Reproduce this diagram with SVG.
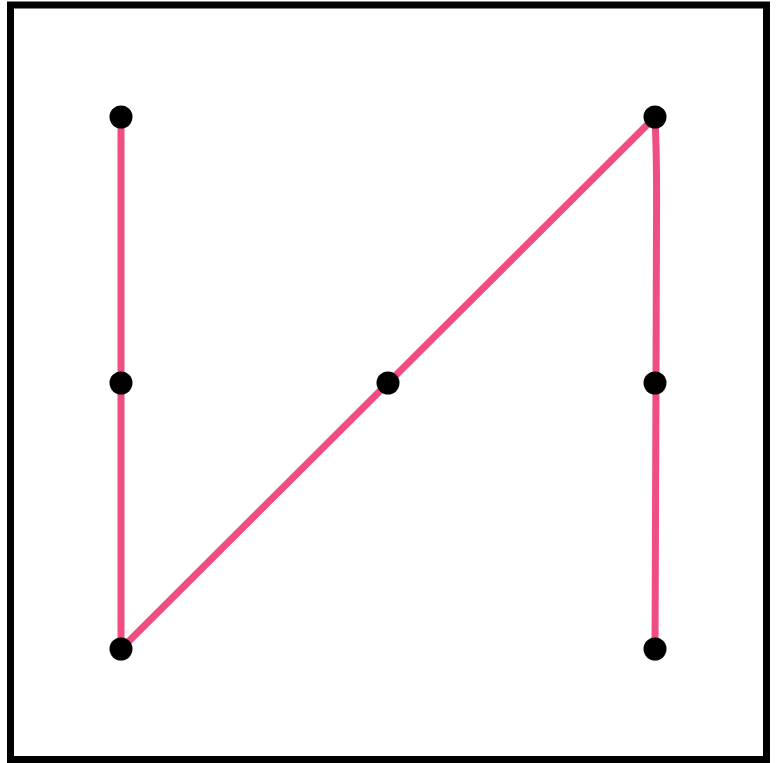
<svg xmlns="http://www.w3.org/2000/svg" width="779" height="763" viewBox="0 0 779 763">
<style>
.edge{fill:none;stroke:#f04e80;stroke-width:7;stroke-linecap:round;stroke-linejoin:round}
.node{fill:#000}
</style>
<rect width="779" height="763" fill="#fff"/>
<rect x="10.5" y="5" width="756" height="754.5" fill="none" stroke="#000" stroke-width="7"/>
<g id="connectors">
<path class="edge" d="M121,117 L121,383"/>
<path class="edge" d="M121,383 L121,649"/>
<path class="edge" d="M121,649 L388,383"/>
<path class="edge" d="M388,383 L655,117"/>
<path class="edge" d="M655,117 Q657,160 656.5,220 L656,383"/>
<path class="edge" d="M656,383 L655,649"/>
</g>
<g id="n1"><circle class="node" cx="121" cy="117" r="11.5"/></g>
<g id="n2"><circle class="node" cx="655" cy="117" r="11.5"/></g>
<g id="n3"><circle class="node" cx="121" cy="383" r="11.5"/></g>
<g id="n4"><circle class="node" cx="388" cy="383" r="11.5"/></g>
<g id="n5"><circle class="node" cx="655" cy="383" r="11.5"/></g>
<g id="n6"><circle class="node" cx="121" cy="649" r="11.5"/></g>
<g id="n7"><circle class="node" cx="655" cy="649" r="11.5"/></g>
</svg>
